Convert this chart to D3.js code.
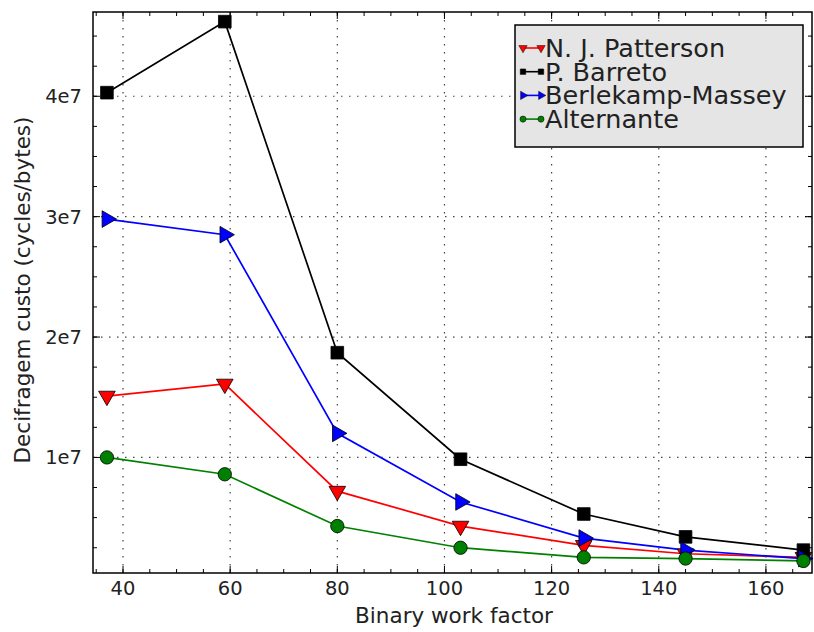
<!DOCTYPE html>
<html>
<head>
<meta charset="utf-8">
<script src="https://cdn.jsdelivr.net/npm/d3@7"></script>
<style>
  body { margin: 0; background: #fff; }
  text { font-family: "DejaVu Sans", sans-serif; fill: #222; }
</style>
</head>
<body>
<div id="wrap"></div>
<script>
// data
const workFactor = [37, 59, 80, 103, 126, 145, 167];
const patterson = [1.51e7, 1.61e7, 0.72e7, 0.43e7, 0.27e7, 0.20e7, 0.17e7];
const barreto = [4.03e7, 4.62e7, 1.87e7, 0.985e7, 0.53e7, 0.34e7, 0.23e7];
const berlekamp = [2.98e7, 2.85e7, 1.20e7, 0.63e7, 0.33e7, 0.23e7, 0.16e7];
const alternante = [1.00e7, 0.86e7, 0.43e7, 0.25e7, 0.17e7, 0.16e7, 0.14e7];
const seriesNames = ["N. J. Patterson", "P. Barreto", "Berlekamp-Massey", "Alternante"];
const xTicks = [40, 60, 80, 100, 120, 140, 160];
const yTicks = [1e7, 2e7, 3e7, 4e7];
const yTickLabels = ["1e7", "2e7", "3e7", "4e7"];

const WIDTH = 814, HEIGHT = 632;
const M = {left: 93, top: 12, right: 2, bottom: 59};
const W = WIDTH - M.left - M.right;
const H = HEIGHT - M.top - M.bottom;

const series = [
  {name: seriesNames[0], values: patterson, color: "#ff0000", marker: "down"},
  {name: seriesNames[1], values: barreto, color: "#000000", marker: "square"},
  {name: seriesNames[2], values: berlekamp, color: "#0000ff", marker: "right"},
  {name: seriesNames[3], values: alternante, color: "#008000", marker: "circle"}
];

const svg = d3.select('#wrap').append('svg')
  .attr('width', WIDTH).attr('height', HEIGHT);

const g = svg.append('g').attr('transform', `translate(${M.left},${M.top})`);

const x = d3.scaleLinear().domain([34.4, 168.6]).range([0, W]);
const y = d3.scaleLinear().domain([0.04e7, 4.7e7]).range([H, 0]);

// grid
g.append('g').selectAll('line').data(xTicks).enter().append('line')
  .attr('x1', d => x(d)).attr('x2', d => x(d)).attr('y1', 0).attr('y2', H)
  .attr('stroke', '#444').attr('stroke-width', 1.2).attr('stroke-dasharray', '1.5,6.5');
g.append('g').selectAll('line').data(yTicks).enter().append('line')
  .attr('y1', d => y(d)).attr('y2', d => y(d)).attr('x1', 0).attr('x2', W)
  .attr('stroke', '#444').attr('stroke-width', 1.2).attr('stroke-dasharray', '1.5,6.5');

// ticks inward (major + minor) on all sides
const xMinor = d3.range(35, 169, 5);
const yMinor = d3.range(0.25e7, 4.7e7, 0.25e7);
function tickMarks(vals, len) {
  const t = g.append('g');
  vals.forEach(v => {
    t.append('line').attr('x1', x(v)).attr('x2', x(v)).attr('y1', H).attr('y2', H - len);
    t.append('line').attr('x1', x(v)).attr('x2', x(v)).attr('y1', 0).attr('y2', len);
  });
  t.selectAll('line').attr('stroke', '#000').attr('stroke-width', 1);
}
function yTickMarks(vals, len) {
  const t = g.append('g');
  vals.forEach(v => {
    t.append('line').attr('y1', y(v)).attr('y2', y(v)).attr('x1', 0).attr('x2', len);
    t.append('line').attr('y1', y(v)).attr('y2', y(v)).attr('x1', W).attr('x2', W - len);
  });
  t.selectAll('line').attr('stroke', '#000').attr('stroke-width', 1);
}
tickMarks(xMinor, 4);
tickMarks(xTicks, 7);
yTickMarks(yMinor, 4);
yTickMarks(yTicks, 7);

// tick labels
g.append('g').selectAll('text').data(xTicks).enter().append('text')
  .attr('x', d => x(d)).attr('y', H + 22)
  .attr('text-anchor', 'middle').style('font-size', '19.5px')
  .text(d => d);
g.append('g').selectAll('text').data(yTicks).enter().append('text')
  .attr('x', -11).attr('y', d => y(d) + 7)
  .attr('text-anchor', 'end').style('font-size', '19.5px')
  .text((d, i) => yTickLabels[i]);

// axis labels
svg.append('text').attr('x', 454).attr('y', 623)
  .attr('text-anchor', 'middle').style('font-size', '21.5px')
  .text('Binary work factor');
svg.append('text')
  .attr('transform', `translate(30,290) rotate(-90)`)
  .attr('text-anchor', 'middle').style('font-size', '21.5px')
  .text('Decifragem custo (cycles/bytes)');

// marker drawing
function markerPath(type, size) {
  if (type === 'square') return d3.symbol(d3.symbolSquare, size)();
  if (type === 'circle') return d3.symbol(d3.symbolCircle, size)();
  return d3.symbol(d3.symbolTriangle, size)();
}
function markerRotate(type) {
  if (type === 'down') return 180;
  if (type === 'right') return 90;
  return 0;
}

const line = d3.line().x((d, i) => x(workFactor[i])).y(d => y(d));

series.forEach(s => {
  g.append('path').datum(s.values)
    .attr('d', line).attr('fill', 'none')
    .attr('stroke', s.color).attr('stroke-width', 1.7);
});
series.forEach(s => {
  g.append('g').selectAll('path').data(s.values).enter().append('path')
    .attr('d', markerPath(s.marker, s.marker === 'square' ? 160 : s.marker === 'circle' ? 140 : 120))
    .attr('transform', (d, i) => `translate(${x(workFactor[i])},${y(d)}) rotate(${markerRotate(s.marker)})`)
    .attr('fill', s.color).attr('stroke', '#000').attr('stroke-width', 0.8);
});

// frame
g.append('rect').attr('width', W).attr('height', H)
  .attr('fill', 'none').attr('stroke', '#000').attr('stroke-width', 1.5);

// legend
const lg = svg.append('g').attr('transform', 'translate(515,25)');
lg.append('rect').attr('width', 288).attr('height', 122)
  .attr('fill', '#e5e5e5').attr('stroke', '#000').attr('stroke-width', 1.5);
series.forEach((s, i) => {
  const base = 32 + i * 23.7;
  const row = lg.append('g').attr('transform', `translate(0,${base})`);
  row.append('line').attr('x1', 8).attr('x2', 26).attr('y1', -9).attr('y2', -9)
    .attr('stroke', s.color).attr('stroke-width', 1.6);
  [8, 26].forEach(px => {
    row.append('path').attr('d', markerPath(s.marker, 30))
      .attr('transform', `translate(${px},-9) rotate(${markerRotate(s.marker)})`)
      .attr('fill', s.color).attr('stroke', '#000').attr('stroke-width', 0.5);
  });
  row.append('text').attr('x', 30).attr('y', 0)
    .style('font-size', '25.5px').text(s.name);
});
</script>
</body>
</html>
